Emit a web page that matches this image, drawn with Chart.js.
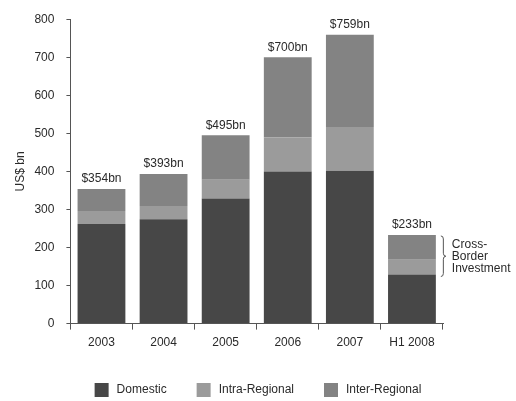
<!DOCTYPE html>
<html>
<head>
<meta charset="utf-8">
<script src="https://cdn.jsdelivr.net/npm/chart.js@4/dist/chart.umd.min.js"></script>
<style>
  html, body { margin: 0; padding: 0; background: #fff; }
  #wrap { width: 516px; height: 401px; }
</style>
</head>
<body>
<div id="wrap"><canvas id="graph-container"></canvas></div>
<script>
// Values (US$ bn)
const years = ['2003', '2004', '2005', '2006', '2007', 'H1 2008'];
const domestic = [262, 274, 329, 400, 402, 129];
const intraRegional = [34, 35, 49, 89, 115, 39];
const interRegional = [58, 84, 117, 211, 242, 65];
const totals = [354, 393, 495, 700, 759, 233];
const yTicks = [0, 100, 200, 300, 400, 500, 600, 700, 800];

const FONT = "'Liberation Sans Narrow', 'Arial Narrow', 'Liberation Sans', sans-serif";
const INK = '#2a2a2a';
const colors = ['#474747', '#9b9b9b', '#838383'];

// Total labels above each stack
const totalLabels = {
  id: 'totalLabels',
  afterDatasetsDraw(chart) {
    const { ctx, scales: { x, y } } = chart;
    ctx.save();
    ctx.font = `12px ${FONT}`;
    ctx.fillStyle = INK;
    ctx.textAlign = 'center';
    ctx.textBaseline = 'bottom';
    totals.forEach((t, i) => {
      ctx.fillText(`$${t}bn`, x.getPixelForValue(i), y.getPixelForValue(t) - 4);
    });
    ctx.restore();
  }
};

// Brace + note next to the last bar
const crossBorder = {
  id: 'crossBorder',
  afterDatasetsDraw(chart) {
    const { ctx, scales: { y } } = chart;
    const last = years.length - 1;
    const bar = chart.getDatasetMeta(0).data[last];
    const bx = bar.x + bar.width / 2 + 5;
    const top = y.getPixelForValue(totals[last]) + 1;
    const bot = y.getPixelForValue(domestic[last]) + 2;
    const mid = (top + bot) / 2;
    ctx.save();
    ctx.strokeStyle = '#555';
    ctx.lineWidth = 1;
    ctx.beginPath();
    ctx.moveTo(bx, top);
    ctx.quadraticCurveTo(bx + 2.5, top, bx + 2.5, top + 3);
    ctx.lineTo(bx + 2.5, mid - 3);
    ctx.quadraticCurveTo(bx + 2.5, mid, bx + 5, mid);
    ctx.quadraticCurveTo(bx + 2.5, mid, bx + 2.5, mid + 3);
    ctx.lineTo(bx + 2.5, bot - 3);
    ctx.quadraticCurveTo(bx + 2.5, bot, bx, bot);
    ctx.stroke();
    ctx.font = `12px ${FONT}`;
    ctx.fillStyle = INK;
    ctx.textAlign = 'left';
    ctx.textBaseline = 'middle';
    ['Cross-', 'Border', 'Investment'].forEach((s, i) => {
      ctx.fillText(s, bx + 11, mid + (i - 1) * 12);
    });
    ctx.restore();
  }
};

// Legend row along the bottom
const bottomLegend = {
  id: 'bottomLegend',
  afterDraw(chart) {
    const { ctx, width } = chart;
    const box = 14, gapText = 8, gapItem = 30, cy = 390;
    ctx.save();
    ctx.font = `12px ${FONT}`;
    const items = chart.data.datasets.map(ds => ({ text: ds.label, color: ds.backgroundColor, w: ctx.measureText(ds.label).width }));
    const total = items.reduce((s, it) => s + box + gapText + it.w, 0) + gapItem * (items.length - 1);
    let x = (width - total) / 2;
    ctx.textBaseline = 'middle';
    ctx.textAlign = 'left';
    items.forEach(it => {
      ctx.fillStyle = it.color;
      ctx.fillRect(x, cy - box / 2, box, box);
      ctx.fillStyle = INK;
      ctx.fillText(it.text, x + box + gapText, cy);
      x += box + gapText + it.w + gapItem;
    });
    ctx.restore();
  }
};

const barBase = { categoryPercentage: 1, barPercentage: 0.77, borderWidth: 0 };

new Chart(document.getElementById('graph-container'), {
  type: 'bar',
  data: {
    labels: years,
    datasets: [
      { label: 'Domestic', data: domestic, backgroundColor: colors[0], ...barBase },
      { label: 'Intra-Regional', data: intraRegional, backgroundColor: colors[1], ...barBase },
      { label: 'Inter-Regional', data: interRegional, backgroundColor: colors[2], ...barBase }
    ]
  },
  options: {
    responsive: true,
    maintainAspectRatio: false,
    animation: false,
    layout: { padding: { top: 10, right: 73, left: 6, bottom: 45 } },
    plugins: {
      tooltip: { enabled: false },
      legend: { display: false }
    },
    scales: {
      x: {
        stacked: true,
        grid: { drawOnChartArea: false, color: '#555', tickLength: 6, offset: true },
        border: { color: '#555' },
        ticks: { font: { family: FONT, size: 12 }, color: INK, padding: 6 }
      },
      y: {
        stacked: true,
        min: 0,
        max: 800,
        afterBuildTicks(scale) { scale.ticks = yTicks.map(v => ({ value: v })); },
        afterFit(scale) { scale.width -= 12; },
        grid: { drawOnChartArea: false, color: '#555', tickLength: 4 },
        border: { color: '#555' },
        ticks: { font: { family: FONT, size: 12 }, color: INK, padding: 12 },
        title: { display: true, text: 'US$ bn', font: { family: FONT, size: 12 }, color: INK, padding: 7 }
      }
    }
  },
  plugins: [totalLabels, crossBorder, bottomLegend]
});
</script>
</body>
</html>
